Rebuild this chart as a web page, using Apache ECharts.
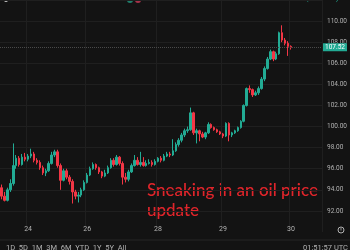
<!DOCTYPE html>
<html><head><meta charset="utf-8">
<script src="https://cdn.jsdelivr.net/npm/echarts@6/dist/echarts.min.js"></script>
<style>html,body{margin:0;padding:0;background:#131313;}#c{width:350px;height:250px;}</style>
</head><body><div id="c"></div>
<script>
// [open, close, low, high] hourly candles
const ohlc = [
[94.2,93.4,93.1,94.5],[93.4,93.0,92.9,93.8],[93.0,94.0,92.9,94.2],[94.0,94.6,93.8,95.0],[94.6,96.3,94.4,98.4],
[96.3,97.0,96.0,97.3],[97.0,96.4,96.2,97.2],[96.4,97.1,96.3,97.4],[97.1,96.9,96.7,97.5],[96.9,97.2,96.7,97.4],
[97.2,97.4,97.0,97.9],[97.4,96.8,96.6,97.6],[96.8,96.6,96.4,97.0],[96.6,96.1,95.9,96.8],[96.1,95.6,95.4,96.3],
[95.6,95.8,95.3,96.0],[95.8,96.5,95.7,96.7],[96.5,97.3,96.4,97.6],[97.3,97.6,97.1,97.8],[97.6,96.3,96.1,97.8],
[96.3,94.9,94.0,96.5],[94.9,95.8,94.8,96.0],[95.8,95.2,95.0,96.0],[95.2,94.8,94.5,95.4],[94.8,93.8,92.7,95.0],
[93.8,93.4,93.1,94.0],[93.4,93.5,92.8,93.8],[93.5,94.0,93.3,94.2],[94.0,94.7,93.9,94.9],[94.7,95.4,94.6,95.6],
[95.4,96.0,95.3,96.2],[96.0,96.4,95.9,96.6],[96.4,96.1,95.9,96.5],[96.1,95.7,95.5,96.2],[95.7,95.3,95.1,95.8],
[95.3,95.6,95.2,95.9],[95.6,96.1,95.5,96.3],[96.1,96.8,96.0,97.0],[96.8,96.4,96.2,97.0],[96.4,97.1,96.3,97.3],
[97.1,96.5,96.3,97.2],[96.5,95.2,94.5,96.7],[95.2,95.0,94.7,95.6],[95.0,95.7,94.8,95.9],[95.7,96.3,95.6,96.5],
[96.3,96.8,96.2,97.3],[96.8,96.4,96.3,97.1],[96.4,96.6,96.2,97.6],[96.6,96.3,96.2,97.1],[96.3,96.5,96.2,96.8],
[96.5,96.6,96.4,96.9],[96.6,96.4,96.2,96.8],[96.4,96.7,96.3,96.9],[96.7,97.0,96.6,97.1],[97.0,96.8,96.6,97.2],
[96.8,97.2,96.7,97.4],[97.2,97.4,97.1,97.6],[97.4,97.3,97.1,97.6],[97.3,97.7,97.2,98.8],[97.7,98.3,97.6,98.5],
[98.3,98.7,98.1,98.9],[98.7,99.2,98.5,99.4],[99.2,99.6,99.0,99.8],[99.6,99.7,99.4,100.0],[99.7,101.3,99.6,101.8],
[101.3,99.4,99.2,101.4],[99.4,99.6,98.4,99.8],[99.6,99.3,98.6,99.7],[99.3,99.0,98.9,99.5],[99.0,99.4,98.8,99.5],
[99.4,100.2,99.3,100.4],[100.2,99.9,99.8,100.3],[99.9,99.7,99.6,100.0],[99.7,99.5,99.4,99.8],[99.5,99.3,99.2,99.6],
[99.3,99.1,98.9,99.4],[99.1,100.3,99.0,100.4],[100.3,99.2,98.6,100.4],[99.2,99.4,99.0,99.5],[99.4,99.6,99.3,99.7],
[99.6,99.9,99.5,100.0],[99.9,100.5,99.8,100.6],[100.5,102.0,100.4,102.1],[102.0,103.6,101.9,103.7],[103.6,103.5,103.2,103.9],
[103.5,103.0,102.8,103.6],[103.0,103.2,102.9,103.4],[103.2,103.6,103.0,103.8],[103.6,104.5,103.5,104.7],[104.5,105.5,104.3,105.7],
[105.5,106.4,105.4,106.6],[106.4,107.1,106.3,107.3],[107.1,106.4,106.2,107.2],[106.4,106.9,106.3,107.1],[106.9,108.9,106.8,109.0],
[108.9,108.2,108.0,109.6],[108.2,107.9,107.7,108.4],[107.9,107.6,106.7,108.1],[107.6,107.52,107.3,107.7]
];
const emptySlots = 10;               // right-hand offset of the time scale
const dayLabels = ['24','26','28','29','30'];
const dayLabelIdx = [9,29,53,75,98];
const priceTicks = [90,92,94,96,98,100,102,104,106,108,110,112];
const lastPrice = 107.52;
const titleText = 'CFDs on WTI Crude Oil · 1h · TVC';
const ohlcText = 'O107.47 H107.60 L107.52 C107.52 −0.10 (−0.09%)';
const rangeButtons = '1D  5D  1M  3M  6M  YTD  1Y  5Y  All';
const clockText = '01:51:57 UTC';
const noteText = 'Sneaking in an oil price\nupdate';

const categories = [];
for (let i = 0; i < ohlc.length + emptySlots; i++) categories.push(String(i));
const labelAt = {};
dayLabelIdx.forEach((k, j) => labelAt[k] = dayLabels[j]);

const UP = '#22ab94', DOWN = '#f23645', GRID = '#1f1f1f';
const chart = echarts.init(document.getElementById('c'), null, {renderer: 'canvas'});
chart.setOption({
  backgroundColor: '#131313',
  animation: false,
  grid: {left: 0, right: 22, top: -10, bottom: 18},
  xAxis: {
    type: 'category', data: categories, boundaryGap: true,
    axisLine: {show: false}, axisTick: {show: false},
    axisLabel: {
      interval: (i) => labelAt[i] !== undefined,
      formatter: (v, i) => labelAt[i] || '',
      color: '#b2b2b2', fontSize: 7, fontFamily: 'Roboto', margin: -6
    },
    splitLine: {show: true, interval: (i) => labelAt[i] !== undefined, lineStyle: {color: GRID, width: 1}}
  },
  yAxis: {
    type: 'value', position: 'right', min: 90, max: 112, interval: 2, scale: true,
    axisLine: {show: false}, axisTick: {show: false},
    axisLabel: {
      formatter: (v) => (v === priceTicks[0] || v === priceTicks[priceTicks.length - 1]) ? '' : v.toFixed(2),
      color: '#b2b2b2', fontSize: 6.5, fontFamily: 'Roboto', margin: 5
    },
    splitLine: {show: true, lineStyle: {color: priceTicks.map((t, k) => (k === 0 ? 'rgba(0,0,0,0)' : GRID)), width: 1}}
  },
  series: [{
    type: 'candlestick',
    data: ohlc,
    barWidth: 2,
    itemStyle: {color: UP, color0: DOWN, borderColor: UP, borderColor0: DOWN, borderWidth: 1},
    markLine: {
      silent: true, symbol: 'none', animation: false,
      lineStyle: {type: 'dotted', color: '#4a4a4a', width: 1},
      label: {
        position: 'end', distance: 1, formatter: lastPrice.toFixed(2),
        backgroundColor: UP, color: '#ffffff', fontSize: 6.5, fontFamily: 'Roboto',
        padding: [1, 2, 0, 2]
      },
      data: [{yAxis: lastPrice}]
    }
  }],
  graphic: [
    {type: 'circle', shape: {cx: 6, cy: 0, r: 2}, style: {fill: '#d0d0d0'}},
    {type: 'text', left: 15, top: -8, style: {text: titleText, fill: '#d8d8d8', fontSize: 11, fontFamily: 'Roboto'}},
    {type: 'circle', shape: {cx: 130, cy: 0, r: 3}, style: {fill: '#1f7f6c'}},
    {type: 'circle', shape: {cx: 138, cy: 0, r: 3}, style: {fill: '#a8324a'}},
    {type: 'text', left: 147, top: -7, style: {text: ohlcText, fill: UP, fontSize: 8.5, fontFamily: 'Roboto'}},
    {type: 'text', left: 147, top: 181, style: {text: noteText, fill: '#e0252b', fontSize: 17, lineHeight: 20, fontFamily: 'Lato', fontWeight: 500}},
    {type: 'line', shape: {x1: 0, y1: 240, x2: 350, y2: 240}, style: {stroke: '#262626', lineWidth: 1}},
    {type: 'circle', shape: {cx: 341, cy: 230, r: 3}, style: {fill: 'none', stroke: '#b2b2b2', lineWidth: 1}},
    {type: 'line', shape: {x1: 341, y1: 228, x2: 341, y2: 230.5}, style: {stroke: '#b2b2b2', lineWidth: 0.8}},
    {type: 'text', left: 6, top: 244, style: {text: rangeButtons, fill: '#b2b2b2', fontSize: 7.5, fontFamily: 'Roboto'}},
    {type: 'text', right: 2, top: 244, style: {text: clockText, fill: '#b2b2b2', fontSize: 7.5, fontFamily: 'Roboto'}}
  ]
});
</script></body></html>
